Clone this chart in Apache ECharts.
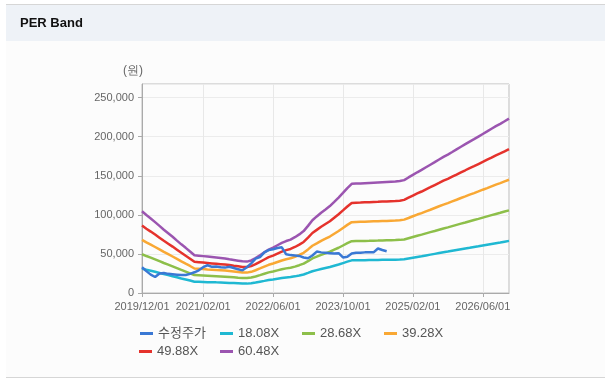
<!DOCTYPE html>
<html>
<head>
<meta charset="utf-8">
<script src="https://cdn.jsdelivr.net/npm/echarts@6/dist/echarts.min.js"></script>
<style>
html,body{margin:0;padding:0;background:#ffffff;}
#frame{position:absolute;left:6px;top:4px;width:599px;height:374px;background:#fcfcfc;border-top:1px solid #d6d6d6;border-bottom:1px solid #d6d6d6;box-sizing:border-box;}
#head{position:absolute;left:0;top:0;width:599px;height:36px;background:#eef2f7;}
#chart{position:absolute;left:0;top:0;width:610px;height:390px;}
</style>
</head>
<body>
<div id="frame"><div id="head"></div></div>
<div id="chart"></div>
<script>
const categories = [
'2019/12/01',
'2020/01/01','2020/02/01','2020/03/01','2020/04/01','2020/05/01','2020/06/01','2020/07/01','2020/08/01','2020/09/01','2020/10/01','2020/11/01','2020/12/01',
'2021/01/01','2021/02/01','2021/03/01','2021/04/01','2021/05/01','2021/06/01','2021/07/01','2021/08/01','2021/09/01','2021/10/01','2021/11/01','2021/12/01',
'2022/01/01','2022/02/01','2022/03/01','2022/04/01','2022/05/01','2022/06/01','2022/07/01','2022/08/01','2022/09/01','2022/10/01','2022/11/01','2022/12/01',
'2023/01/01','2023/02/01','2023/03/01','2023/04/01','2023/05/01','2023/06/01','2023/07/01','2023/08/01','2023/09/01','2023/10/01','2023/11/01','2023/12/01',
'2024/01/01','2024/02/01','2024/03/01','2024/04/01','2024/05/01','2024/06/01','2024/07/01','2024/08/01','2024/09/01','2024/10/01','2024/11/01','2024/12/01',
'2025/01/01','2025/02/01','2025/03/01','2025/04/01','2025/05/01','2025/06/01','2025/07/01','2025/08/01','2025/09/01','2025/10/01','2025/11/01','2025/12/01',
'2026/01/01','2026/02/01','2026/03/01','2026/04/01','2026/05/01','2026/06/01','2026/07/01','2026/08/01','2026/09/01','2026/10/01','2026/11/01','2026/12/01'
];
const tickLabels = ['2019/12/01','2021/02/01','2022/06/01','2023/10/01','2025/02/01','2026/06/01'];
const yTicks = [0, 50000, 100000, 150000, 200000, 250000];

const seriesNames = ['수정주가','18.08X','28.68X','39.28X','49.88X','60.48X'];

const price = [
33000,28000,23500,20500,25000,25500,24500,24000,23500,23000,23000,24500,26500,
29000,33000,35500,33500,34000,33000,32500,33500,32000,30500,29000,33000,
38000,44000,46000,52000,55000,56000,57500,58500,49500,48500,48000,47500,
45500,44500,48000,53000,52000,51500,51000,50500,51000,45500,46500,50500,
51500,51500,52000,52000,52000,57000,55000,53500
];
const per1808 = [
31300,29800,28500,27100,25700,24200,22900,21500,20100,18600,17300,15900,14500,
14300,14100,13900,13700,13600,13400,13200,12900,12700,12400,12100,12000,
12500,13400,14500,15500,16600,17400,18300,19200,19900,20400,21300,22400,
23700,25700,27800,29300,30700,32000,33300,34900,36500,38300,40100,41800,
41900,41900,42000,42100,42200,42300,42400,42500,42600,42700,42800,43200,
44200,45200,46200,47100,48100,49100,50100,51100,52100,53000,54000,55000,
56000,57000,57900,58900,59800,60800,61800,62800,63800,64700,65700,66700
];
const per2868 = [
49600,47300,45200,43000,40700,38400,36300,34100,31800,29500,27400,25200,22900,
22700,22400,22100,21800,21500,21200,20900,20500,20100,19600,19200,19100,
19800,21200,22900,24700,26400,27500,29000,30400,31500,32400,33800,35600,
37600,40700,44200,46500,48800,50800,52800,55400,57900,60800,63700,66300,
66400,66500,66700,66800,67000,67100,67300,67400,67500,67700,68000,68500,
70100,71700,73300,74700,76300,77900,79400,81000,82600,84000,85600,87200,
88800,90300,91900,93400,94900,96500,98100,99700,101200,102700,104300,105800
];
const per3928 = [
68000,64800,61900,58900,55800,52600,49700,46700,43600,40500,37500,34600,31400,
31000,30600,30200,29900,29500,29100,28700,28100,27500,26900,26300,26100,
27100,29100,31400,33800,36100,37700,39700,41600,43200,44400,46400,48700,
51500,55800,60500,63600,66800,69500,72300,75800,79300,83300,87200,90700,
90900,91100,91300,91500,91700,91900,92100,92300,92500,92700,93100,93900,
96000,98200,100400,102300,104500,106600,108800,111000,113100,115100,117300,119400,
121600,123700,125900,127900,130000,132200,134300,136500,138700,140600,142800,144900
];
const per4988 = [
86300,82300,78600,74800,70800,66800,63100,59400,55400,51400,47600,43900,39900,
39400,38900,38400,37900,37400,36900,36400,35700,34900,34200,33400,33200,
34400,36900,39900,42900,45900,47900,50400,52900,54900,56400,58900,61900,
65300,70800,76800,80800,84800,88300,91800,96300,100800,105700,110700,115200,
115500,115700,116000,116200,116500,116700,117000,117200,117500,117700,118200,119200,
122000,124700,127400,129900,132700,135400,138200,140900,143700,146100,148900,151600,
154400,157100,159900,162400,165100,167800,170600,173300,176100,178600,181300,184100
];
const per6048 = [
104600,99800,95300,90700,85900,81000,76500,72000,67100,62300,57800,53200,48400,
47800,47200,46600,46000,45400,44800,44200,43200,42300,41400,40500,40200,
41700,44800,48400,52000,55600,58100,61100,64100,66500,68300,71400,75000,
79200,85900,93100,98000,102800,107000,111300,116700,122200,128200,134300,139700,
140000,140300,140600,140900,141200,141500,141800,142100,142400,142700,143300,144500,
147900,151200,154500,157600,160900,164200,167500,170900,174200,177200,180500,183900,
187200,190500,193800,196900,200200,203500,206800,210200,213500,216500,219800,223200
];

const seriesData = [price, per1808, per2868, per3928, per4988, per6048];
const colors = ['#3a78d4','#1fb8d2','#8dbf4a','#f9a834','#e5322c','#9b55b0'];

const chart = echarts.init(document.getElementById('chart'), null, {renderer:'canvas'});
const isTick = (i) => tickLabels.indexOf(categories[i]) >= 0;
const font = "'Liberation Sans', 'Noto Sans CJK KR', sans-serif";

const legendPos = [[140,327],[220,327],[302,327],[384,327],[139,345],[220,345]];
const legends = seriesNames.map((n, i) => ({
  data: [n],
  left: legendPos[i][0], top: legendPos[i][1],
  icon: 'rect', itemWidth: 13, itemHeight: 3, itemGap: 0,
  padding: 0,
  selectedMode: false,
  textStyle: {fontSize: 13, color: '#555', fontFamily: font}
}));

chart.setOption({
  animation: false,
  backgroundColor: 'transparent',
  title: {
    text: 'PER Band', left: 15, top: 12,
    textStyle: {fontSize: 13, fontWeight: 'bold', color: '#111', fontFamily: font}
  },
  graphic: [{
    type: 'text', left: 123, top: 65,
    style: {text: '(원)', fontSize: 12, fill: '#666', font: "12px " + font}
  }],
  legend: legends,
  grid: {left: 142, right: 101, top: 84, bottom: 97, show: true, borderColor: '#bdbdbd', borderWidth: 1, containLabel: false},
  xAxis: {
    type: 'category', data: categories, boundaryGap: false,
    axisLine: {lineStyle: {color: '#aaa'}},
    axisTick: {show: true, length: 4, interval: (i) => isTick(i), lineStyle: {color: '#aaa'}},
    axisLabel: {interval: (i) => isTick(i), color: '#666', fontSize: 11, margin: 8, fontFamily: font},
    splitLine: {show: true, interval: (i) => isTick(i), lineStyle: {color: '#e8e8e8'}}
  },
  yAxis: {
    type: 'value', min: 0, max: 267500, interval: 50000,
    axisLine: {show: true, lineStyle: {color: '#aaa'}},
    axisTick: {show: true, length: 4, lineStyle: {color: '#aaa'}},
    axisLabel: {
      color: '#666', fontSize: 11, margin: 8, fontFamily: font, showMaxLabel: false,
      formatter: (v) => yTicks.indexOf(v) >= 0 ? v.toLocaleString('en-US') : ''
    },
    splitLine: {lineStyle: {color: '#ececec'}}
  },
  series: seriesNames.map((n, i) => ({
    name: n, type: 'line', data: seriesData[i], symbol: 'none', showSymbol: false,
    z: i === 0 ? 5 : 2,
    itemStyle: {color: colors[i]},
    lineStyle: {color: colors[i], width: 2.5}
  }))
});
</script>
</body>
</html>
